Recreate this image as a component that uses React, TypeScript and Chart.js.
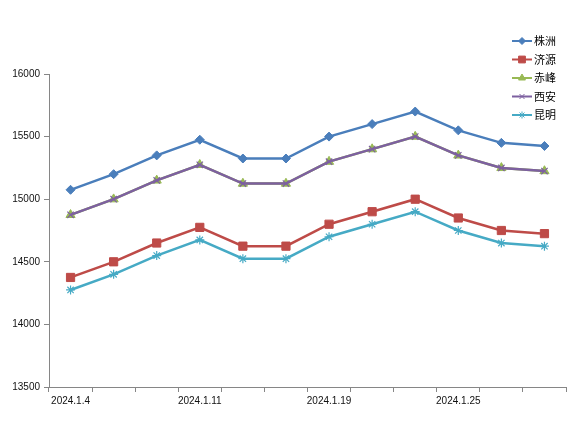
import React, { useEffect, useRef } from "react";
import { Chart, registerables } from "chart.js";
import { drawPoint } from "chart.js/helpers";

Chart.register(...registerables);

const categories = [
  "2024.1.4", "2024.1.5", "2024.1.9", "2024.1.11", "2024.1.12", "2024.1.16",
  "2024.1.19", "2024.1.22", "2024.1.23", "2024.1.25", "2024.1.26", "2024.1.29",
];
const zhuzhou = [15075, 15200, 15350, 15475, 15325, 15325, 15500, 15600, 15700, 15550, 15450, 15425];
const jiyuan = [14375, 14500, 14650, 14775, 14625, 14625, 14800, 14900, 15000, 14850, 14750, 14725];
const chifeng = [14875, 15000, 15150, 15275, 15125, 15125, 15300, 15400, 15500, 15350, 15250, 15225];
const xian = [14875, 15000, 15150, 15275, 15125, 15125, 15300, 15400, 15500, 15350, 15250, 15225];
const kunming = [14275, 14400, 14550, 14675, 14525, 14525, 14700, 14800, 14900, 14750, 14650, 14625];
const seriesNames = ["株洲", "济源", "赤峰", "西安", "昆明"];
const yTicks = [13500, 14000, 14500, 15000, 15500, 16000];

const colors = ["#4A7EBB", "#BE4B48", "#98B954", "#7D60A0", "#46AAC5"];
const pointStyles = ["rectRot", "rect", "triangle", "crossRot", "star"];
const pointRadii = [4.5, 5.8, 5.3, 4.5, 4.5];
const legendRadii = [3.5, 4.8, 4, 3.5, 3.5];

const legendPlugin = {
  id: "customLegend",
  afterDraw(chart: any) {
    const ctx = chart.ctx;
    const x0 = 512;
    const y0 = 41;
    const step = 18.5;
    ctx.save();
    chart.data.datasets.forEach((ds: any, i: number) => {
      const y = y0 + i * step;
      ctx.strokeStyle = ds.borderColor;
      ctx.lineWidth = 2;
      ctx.beginPath();
      ctx.moveTo(x0, y);
      ctx.lineTo(x0 + 20, y);
      ctx.stroke();
      ctx.fillStyle = ds.backgroundColor;
      ctx.strokeStyle = ds.borderColor;
      ctx.lineWidth = 1;
      drawPoint(ctx, { pointStyle: ds.pointStyle, radius: legendRadii[i], borderWidth: 1, rotation: 0 }, x0 + 10, y);
      ctx.fillStyle = "#000";
      ctx.font = '11px "Noto Sans CJK SC"';
      ctx.textBaseline = "middle";
      ctx.textAlign = "left";
      ctx.fillText(ds.label, x0 + 22, y);
    });
    ctx.restore();
  },
};

export default function App() {
  const ref = useRef<HTMLCanvasElement>(null);
  useEffect(() => {
    document.body.style.margin = "0";
    const allSeries = [zhuzhou, jiyuan, chifeng, xian, kunming];
    const chart = new Chart(ref.current!, {
      type: "line",
      data: {
        labels: categories,
        datasets: allSeries.map((d, i) => ({
          label: seriesNames[i],
          data: d,
          borderColor: colors[i],
          backgroundColor: colors[i],
          pointBorderColor: colors[i],
          pointBackgroundColor: colors[i],
          borderWidth: 2.5,
          pointStyle: pointStyles[i] as any,
          pointRadius: pointRadii[i],
          pointBorderWidth: i === 3 || i === 4 ? 1.2 : 1,
          tension: 0,
          order: 5 - i,
        })),
      },
      options: {
        responsive: false,
        animation: false,
        devicePixelRatio: 1,
        layout: { padding: { top: 74, right: 18, left: 0, bottom: 0 } },
        plugins: {
          legend: { display: false },
          tooltip: { enabled: false },
        },
        scales: {
          x: {
            type: "category",
            offset: true,
            afterFit: (s: any) => {
              s.height = 42;
            },
            grid: {
              offset: true,
              drawOnChartArea: false,
              drawTicks: true,
              tickLength: 5,
              color: "#868686",
            },
            border: { color: "#868686", width: 1 },
            ticks: {
              autoSkip: false,
              maxRotation: 0,
              minRotation: 0,
              padding: 3,
              color: "#111",
              font: { family: '"Liberation Sans", Arial, sans-serif', size: 10 },
              callback: (_v: any, i: number) => (i % 3 === 0 ? categories[i] : ""),
            },
          },
          y: {
            min: yTicks[0],
            max: yTicks[yTicks.length - 1],
            afterFit: (s: any) => {
              s.width = 49;
            },
            afterBuildTicks: (s: any) => {
              s.ticks = yTicks.map((v) => ({ value: v }));
            },
            grid: {
              drawOnChartArea: false,
              drawTicks: true,
              tickLength: 5,
              color: "#868686",
            },
            border: { color: "#868686", width: 1 },
            ticks: {
              padding: 4,
              color: "#111",
              font: { family: '"Liberation Sans", Arial, sans-serif', size: 10 },
              callback: (v: any) => String(v),
            },
          },
        },
      },
      plugins: [legendPlugin],
    });
    return () => chart.destroy();
  }, []);
  return (
    <div style={{ width: 584, height: 429, background: "#fff" }}>
      <canvas ref={ref} width={584} height={429} style={{ display: "block" }} />
    </div>
  );
}
